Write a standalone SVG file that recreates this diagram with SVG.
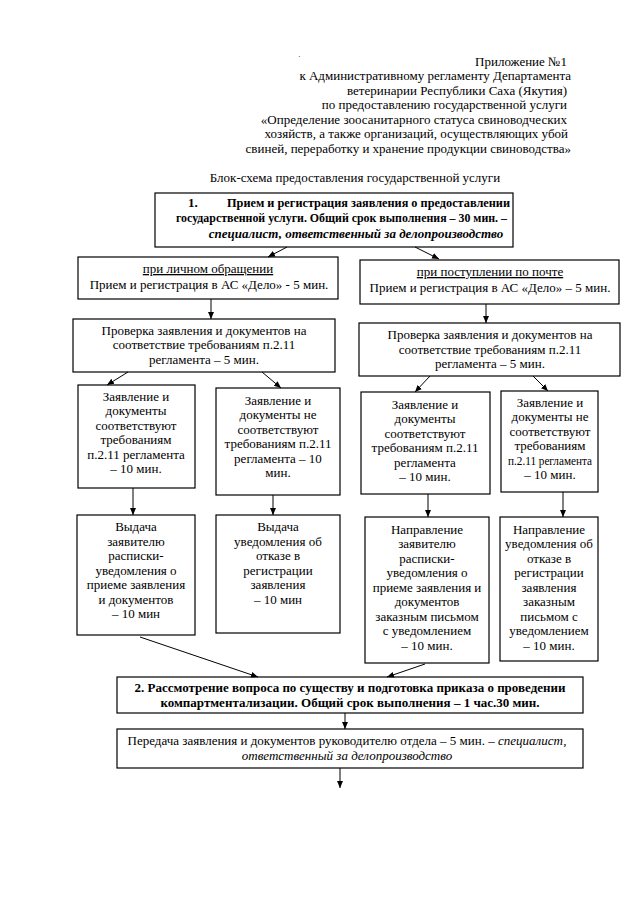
<svg xmlns="http://www.w3.org/2000/svg" width="631" height="905" viewBox="0 0 631 905" font-family="'Liberation Serif', 'Times New Roman', 'DejaVu Serif', serif" font-size="13">
<defs>
<marker id="ah" markerWidth="8" markerHeight="8" refX="7" refY="4" orient="auto" markerUnits="userSpaceOnUse">
<path d="M0,1 L7,4 L0,7 Z" fill="#000"/>
</marker>
<style>
text{fill:#000}
.c{text-anchor:middle}
.r{text-anchor:end}
.b{font-weight:bold}
.i{font-style:italic}
.u{text-decoration:underline}
rect{fill:#fff;stroke:#000;stroke-width:1.2}
.con line{stroke:#000;stroke-width:1}
</style>
</defs>
<rect x="0" y="0" width="631" height="905" style="stroke:none"/>
<g id="header">
<text x="298" y="59" font-size="8">·</text>
<text class="r" x="567" y="66">Приложение №1</text>
<text class="r" x="571" y="80">к Административному регламенту Департамента</text>
<text class="r" x="567" y="95">ветеринарии Республики Саха (Якутия)</text>
<text class="r" x="567" y="109">по предоставлению государственной услуги</text>
<text class="r" x="567" y="124">«Определение зоосанитарного статуса свиноводческих</text>
<text class="r" x="568" y="138">хозяйств, а также организаций, осуществляющих убой</text>
<text class="r" x="571" y="153">свиней, переработку и хранение продукции свиноводства»</text>
<text class="c" x="355" y="182">Блок-схема предоставления государственной услуги</text>
</g>
<g id="n1">
<rect x="155" y="193" width="358" height="54"/>
<text class="b" x="188" y="207">1.</text>
<text class="b" x="227" y="207" textLength="283" lengthAdjust="spacingAndGlyphs">Прием и регистрация заявления о предоставлении</text>
<text class="b" x="176" y="222" textLength="331" lengthAdjust="spacingAndGlyphs">государственной услуги. Общий срок выполнения – 30 мин. –</text>
<text class="c b i" x="356" y="238">специалист, ответственный за делопроизводство</text>
</g>
<g id="nA">
<rect x="78" y="257" width="260" height="42"/>
<text class="c u" x="208" y="273">при личном обращении</text>
<text class="c" x="209" y="289">Прием и регистрация в АС «Дело» - 5 мин.</text>
</g>
<g id="nB">
<rect x="360" y="260" width="259" height="44"/>
<text class="c u" x="490" y="276">при поступлении по почте</text>
<text class="c" x="490" y="292">Прием и регистрация в АС «Дело» – 5 мин.</text>
</g>
<g id="nC">
<rect x="73" y="319" width="262" height="53"/>
<text class="c" x="204" y="335">Проверка заявления и документов на</text>
<text class="c" x="204" y="349">соответствие требованиям п.2.11</text>
<text class="c" x="204" y="364">регламента – 5 мин.</text>
</g>
<g id="nD">
<rect x="359" y="323" width="261" height="53"/>
<text class="c" x="490" y="339">Проверка заявления и документов на</text>
<text class="c" x="490" y="354">соответствие требованиям п.2.11</text>
<text class="c" x="490" y="368">регламента – 5 мин.</text>
</g>
<g id="nE1">
<rect x="78" y="385" width="117" height="103"/>
<text class="c" x="136" y="401">Заявление и</text>
<text class="c" x="136" y="415">документы</text>
<text class="c" x="136" y="430">соответствуют</text>
<text class="c" x="136" y="444">требованиям</text>
<text class="c" x="136" y="459">п.2.11 регламента</text>
<text class="c" x="136" y="473">– 10 мин.</text>
</g>
<g id="nE2">
<rect x="216" y="388" width="124" height="107"/>
<text class="c" x="278" y="405">Заявление и</text>
<text class="c" x="278" y="419">документы не</text>
<text class="c" x="278" y="434">соответствуют</text>
<text class="c" x="278" y="448">требованиям п.2.11</text>
<text class="c" x="278" y="463">регламента – 10</text>
<text class="c" x="278" y="477">мин.</text>
</g>
<g id="nE3">
<rect x="361" y="392" width="129" height="102"/>
<text class="c" x="425" y="409">Заявление и</text>
<text class="c" x="425" y="423">документы</text>
<text class="c" x="425" y="438">соответствуют</text>
<text class="c" x="425" y="452">требованиям п.2.11</text>
<text class="c" x="425" y="467">регламента</text>
<text class="c" x="425" y="481">– 10 мин.</text>
</g>
<g id="nE4">
<rect x="501" y="391" width="97" height="101"/>
<text class="c" x="550" y="407">Заявление и</text>
<text class="c" x="550" y="421">документы не</text>
<text class="c" x="550" y="436">соответствуют</text>
<text class="c" x="550" y="450">требованиям</text>
<text x="508" y="465" textLength="84" lengthAdjust="spacingAndGlyphs">п.2.11 регламента</text>
<text class="c" x="550" y="479">– 10 мин.</text>
</g>
<g id="nF1">
<rect x="77" y="515" width="118" height="120"/>
<text class="c" x="136" y="531">Выдача</text>
<text class="c" x="136" y="546">заявителю</text>
<text class="c" x="136" y="560">расписки-</text>
<text class="c" x="136" y="575">уведомления о</text>
<text class="c" x="136" y="589">приеме заявления</text>
<text class="c" x="136" y="604">и документов</text>
<text class="c" x="136" y="618">– 10 мин</text>
</g>
<g id="nF2">
<rect x="216" y="515" width="124" height="118"/>
<text class="c" x="278" y="531">Выдача</text>
<text class="c" x="278" y="546">уведомления об</text>
<text class="c" x="278" y="560">отказе в</text>
<text class="c" x="278" y="575">регистрации</text>
<text class="c" x="278" y="589">заявления</text>
<text class="c" x="278" y="604">– 10 мин</text>
</g>
<g id="nF3">
<rect x="365" y="517" width="124" height="146"/>
<text class="c" x="427" y="534">Направление</text>
<text class="c" x="427" y="548">заявителю</text>
<text class="c" x="427" y="563">расписки-</text>
<text class="c" x="427" y="577">уведомления о</text>
<text class="c" x="427" y="592">приеме заявления и</text>
<text class="c" x="427" y="606">документов</text>
<text class="c" x="427" y="621">заказным письмом</text>
<text class="c" x="427" y="635">с уведомлением</text>
<text class="c" x="427" y="650">– 10 мин.</text>
</g>
<g id="nF4">
<rect x="500" y="517" width="98" height="144"/>
<text class="c" x="549" y="534">Направление</text>
<text class="c" x="549" y="548">уведомления об</text>
<text class="c" x="549" y="563">отказе в</text>
<text class="c" x="549" y="577">регистрации</text>
<text class="c" x="549" y="592">заявления</text>
<text class="c" x="549" y="606">заказным</text>
<text class="c" x="549" y="621">письмом с</text>
<text class="c" x="549" y="635">уведомлением</text>
<text class="c" x="549" y="650">– 10 мин.</text>
</g>
<g id="n2">
<rect x="117" y="677" width="466" height="36"/>
<text class="c b" x="350" y="692">2. Рассмотрение вопроса по существу и подготовка приказа о проведении</text>
<text class="c b" x="350" y="707">компартментализации. Общий срок выполнения – 1 час.30 мин.</text>
</g>
<g id="nH">
<rect x="117" y="729" width="466" height="39"/>
<text class="c" x="347" y="745">Передача заявления и документов руководителю отдела – 5 мин. – <tspan class="i">специалист,</tspan></text>
<text class="c i" x="347" y="760">ответственный за делопроизводство</text>
</g>
<g class="con" id="connectors">
<line x1="287" y1="247" x2="268" y2="257" marker-end="url(#ah)"/>
<line x1="415" y1="247" x2="439" y2="259" marker-end="url(#ah)"/>
<line x1="211" y1="299" x2="211" y2="319" marker-end="url(#ah)"/>
<line x1="486" y1="304" x2="486" y2="323" marker-end="url(#ah)"/>
<line x1="128" y1="372" x2="107" y2="385" marker-end="url(#ah)"/>
<line x1="262" y1="372" x2="281" y2="388" marker-end="url(#ah)"/>
<line x1="430" y1="376" x2="415" y2="392" marker-end="url(#ah)"/>
<line x1="533" y1="376" x2="548" y2="391" marker-end="url(#ah)"/>
<line x1="133" y1="488" x2="133" y2="515" marker-end="url(#ah)"/>
<line x1="273" y1="495" x2="273" y2="515" marker-end="url(#ah)"/>
<line x1="428" y1="494" x2="428" y2="517" marker-end="url(#ah)"/>
<line x1="563" y1="492" x2="563" y2="517" marker-end="url(#ah)"/>
<line x1="140" y1="637" x2="258" y2="677" marker-end="url(#ah)"/>
<line x1="425" y1="664" x2="387" y2="677" marker-end="url(#ah)"/>
<line x1="345" y1="713" x2="345" y2="729" marker-end="url(#ah)"/>
<line x1="340" y1="768" x2="340" y2="788" marker-end="url(#ah)"/>
</g>
</svg>
